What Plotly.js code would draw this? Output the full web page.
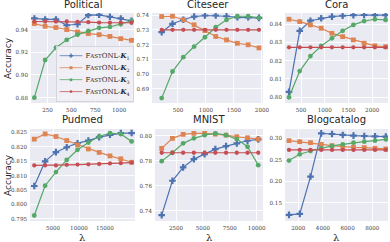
<!DOCTYPE html>
<html><head><meta charset="utf-8">
<script src="https://cdn.plot.ly/plotly-3.0.1.min.js"></script>
<style>html,body{margin:0;padding:0;background:#fff;}#c{width:390px;height:242px;}</style>
</head><body><div id="c"></div>
<script>
const seriesLabels = ['K1','K2','K3','K4'];
const seriesColors = ['#4C72B0','#DD8452','#55A868','#C44E52'];
const seriesSymbols = ['cross','square','circle','circle'];
const seriesSizes = [5.5,4.8,4.8,4.3];

const datasetNames = ['Political','Citeseer','Cora','Pudmed','MNIST','Blogcatalog'];

const politicalX = [112,225,338,451,564,677,790,903,1016,1129];
const politicalK1 = [0.9498,0.9489,0.9489,0.9438,0.9447,0.9528,0.9530,0.9513,0.9498,0.9477];
const politicalK2 = [0.9453,0.9429,0.9418,0.9400,0.9379,0.9364,0.9355,0.9340,0.9320,0.9305];
const politicalK3 = [0.8800,0.9132,0.9240,0.9310,0.9355,0.9388,0.9415,0.9423,0.9447,0.9477];
const politicalK4 = [0.9471,0.9471,0.9471,0.9471,0.9468,0.9465,0.9462,0.9460,0.9460,0.9460];

const citeseerX = [209,402,595,788,981,1174,1367,1560,1753,1946];
const citeseerK1 = [0.7284,0.7341,0.7368,0.7390,0.7397,0.7397,0.7392,0.7385,0.7385,0.7381];
const citeseerK2 = [0.7390,0.7392,0.7368,0.7334,0.7295,0.7255,0.7232,0.7209,0.7199,0.7178];
const citeseerK3 = [0.6838,0.7018,0.7115,0.7187,0.7250,0.7318,0.7368,0.7392,0.7392,0.7381];
const citeseerK4 = [0.7300,0.7300,0.7300,0.7300,0.7300,0.7300,0.7300,0.7300,0.7300,0.7300];

const coraX = [247,473,699,925,1151,1377,1603,1829,2055,2281];
const coraK1 = [0.8030,0.8363,0.8418,0.8431,0.8440,0.8445,0.8448,0.8449,0.8448,0.8448];
const coraK2 = [0.8426,0.8413,0.8395,0.8377,0.8349,0.8331,0.8313,0.8295,0.8281,0.8276];
const coraK3 = [0.8000,0.8143,0.8225,0.8280,0.8322,0.8363,0.8395,0.8416,0.8426,0.8422];
const coraK4 = [0.8273,0.8273,0.8273,0.8273,0.8273,0.8273,0.8273,0.8273,0.8273,0.8273];

const pudmedX = [1400,3480,5560,7640,9720,11800,13880,15960,18040,20120];
const pudmedK1 = [0.8064,0.8149,0.8181,0.8198,0.8212,0.8221,0.8233,0.8241,0.8247,0.8247];
const pudmedK2 = [0.8226,0.8244,0.8235,0.8221,0.8206,0.8192,0.8180,0.8168,0.8158,0.8146];
const pudmedK3 = [0.7962,0.8065,0.8112,0.8154,0.8189,0.8214,0.8235,0.8247,0.8244,0.8218];
const pudmedK4 = [0.8135,0.8135,0.8135,0.8137,0.8138,0.8139,0.8140,0.8142,0.8143,0.8145];

const mnistX = [1170,2167,3164,4161,5158,6155,7152,8149,9146,10143];
const mnistK1 = [0.7365,0.7640,0.7747,0.7813,0.7853,0.7893,0.7917,0.7939,0.7960,0.7971];
const mnistK2 = [0.7899,0.7979,0.8011,0.8019,0.8019,0.8013,0.8005,0.7992,0.7984,0.7973];
const mnistK3 = [0.7797,0.7864,0.7939,0.7979,0.8005,0.8019,0.8005,0.7973,0.7912,0.7765];
const mnistK4 = [0.7864,0.7864,0.7864,0.7864,0.7864,0.7864,0.7864,0.7864,0.7864,0.7864];

const blogX = [1246,2118,2990,3862,4734,5606,6478,7350,8222,9094];
const blogK1 = [0.1217,0.1240,0.2109,0.3116,0.3101,0.3078,0.3062,0.3054,0.3046,0.3039];
const blogK2 = [0.2946,0.2922,0.2899,0.2860,0.2829,0.2806,0.2791,0.2783,0.2767,0.2752];
const blogK3 = [0.2481,0.2628,0.2705,0.2767,0.2822,0.2860,0.2899,0.2922,0.2946,0.2977];
const blogK4 = [0.2729,0.2729,0.2729,0.2729,0.2729,0.2729,0.2729,0.2729,0.2729,0.2729];

const politicalXTicks = [250,500,750,1000];
const citeseerXTicks = [500,1000,1500,2000];
const coraXTicks = [500,1000,1500,2000];
const pudmedXTicks = [5000,10000,15000];
const mnistXTicks = [2500,5000,7500,10000];
const blogXTicks = [2000,4000,6000,8000];

const politicalYTicks = [0.88,0.90,0.92,0.94];
const citeseerYTicks = [0.69,0.70,0.71,0.72,0.73,0.74];
const coraYTicks = [0.80,0.81,0.82,0.83,0.84];
const pudmedYTicks = [0.795,0.800,0.805,0.810,0.815,0.820,0.825];
const mnistYTicks = [0.74,0.76,0.78,0.80];
const blogYTicks = [0.15,0.20,0.25,0.30];

const W = 390, H = 242;
// panel boxes in pixels [left,right,top,bottom]
const boxes = [[31,134,13,103],[152,263,13,103],[285,388,13,103],[30,135,129,221],[155,263,129,221],[285,388,129,221]];
const xRanges = [[77,1155],[36,2018],[163,2332],[577,20770],[548,10585],[921,9275]];
const yRanges = [[0.8753,0.9546],[0.6805,0.7414],[0.7969,0.846],[0.7943,0.8261],[0.7318,0.8054],[0.1074,0.3217]];
const yDecimals = [2,2,2,3,2,2];

const panels = [
  [politicalX,[politicalK1,politicalK2,politicalK3,politicalK4],politicalXTicks,politicalYTicks],
  [citeseerX,[citeseerK1,citeseerK2,citeseerK3,citeseerK4],citeseerXTicks,citeseerYTicks],
  [coraX,[coraK1,coraK2,coraK3,coraK4],coraXTicks,coraYTicks],
  [pudmedX,[pudmedK1,pudmedK2,pudmedK3,pudmedK4],pudmedXTicks,pudmedYTicks],
  [mnistX,[mnistK1,mnistK2,mnistK3,mnistK4],mnistXTicks,mnistYTicks],
  [blogX,[blogK1,blogK2,blogK3,blogK4],blogXTicks,blogYTicks]
];

// legend is drawn by Plotly at a larger font, then scaled down as a whole
const LEG_SCALE = 0.63;
function legendLabel(i){
  return 'F<span style="font-size:8.8px">AST</span>ONL-<b><i>K</i></b><sub>'+(i+1)+'</sub>';
}

const traces = [];
const layout = {
  width: W, height: H,
  margin: {l:0,r:0,t:0,b:0},
  paper_bgcolor: '#ffffff',
  plot_bgcolor: '#EAEAF2',
  showlegend: true,
  legend: {
    x: 0.05, y: 0.95, xanchor: 'left', yanchor: 'top',
    bgcolor: 'rgba(240,240,246,0.85)', bordercolor: '#cfcfd8', borderwidth: 1.3,
    font: {family: 'DejaVu Serif', size: 11, color: '#262626'},
    tracegroupgap: 0, itemwidth: 36
  },
  annotations: []
};

panels.forEach((p, k) => {
  const id = k === 0 ? '' : String(k+1);
  const b = boxes[k];
  layout['xaxis'+id] = {
    domain: [b[0]/W, b[1]/W], range: xRanges[k], anchor: 'y'+id,
    tickvals: p[2], ticktext: p[2].map(v => String(v)),
    showgrid: true, gridcolor: '#ffffff', gridwidth: 0.9, zeroline: false,
    showline: false, ticks: '', ticklabelstandoff: 2,
    tickfont: {family: 'DejaVu Serif', size: 5.6, color: '#444444'}
  };
  layout['yaxis'+id] = {
    domain: [1-b[3]/H, 1-b[2]/H], range: yRanges[k], anchor: 'x'+id,
    tickvals: p[3], ticktext: p[3].map(v => v.toFixed(yDecimals[k])),
    showgrid: true, gridcolor: '#ffffff', gridwidth: 0.9, zeroline: false,
    showline: false, ticks: '', ticklabelstandoff: 2,
    tickfont: {family: 'DejaVu Serif', size: 5.6, color: '#444444'}
  };
  p[1].forEach((ys, i) => {
    traces.push({
      type: 'scatter', mode: 'lines+markers',
      x: p[0], y: ys, xaxis: 'x'+id, yaxis: 'y'+id,
      name: legendLabel(i), showlegend: k === 0,
      line: {color: seriesColors[i], width: 1.2},
      marker: {color: seriesColors[i], symbol: seriesSymbols[i], size: seriesSizes[i], line: {width: 0}}
    });
  });
  layout.annotations.push({
    text: datasetNames[k], xref: 'paper', yref: 'paper',
    x: (b[0]+b[1])/2/W, y: 1-(b[2]-1.5)/H, xanchor: 'center', yanchor: 'bottom',
    showarrow: false, font: {family: 'DejaVu Sans', size: 10, color: '#262626'}
  });
  if (k >= 3) {
    layout.annotations.push({
      text: 'λ', xref: 'paper', yref: 'paper',
      x: (b[0]+b[1])/2/W, y: 1-237/H, xanchor: 'center', yanchor: 'middle',
      showarrow: false, font: {family: 'DejaVu Serif', size: 10, color: '#262626'}
    });
  }
  if (k === 0 || k === 3) {
    layout.annotations.push({
      text: 'Accuracy', xref: 'paper', yref: 'paper',
      x: 8/W, y: 1-((b[2]+b[3])/2)/H, xanchor: 'center', yanchor: 'middle', textangle: -90,
      showarrow: false, font: {family: 'DejaVu Sans', size: 9, color: '#262626'}
    });
  }
});

Plotly.newPlot('c', traces, layout, {staticPlot: true, displayModeBar: false}).then(gd => {
  const leg = gd.querySelector('g.legend');
  if (!leg) return;
  const bg = leg.querySelector('rect.bg');
  const w = bg ? parseFloat(bg.getAttribute('width')) : 120;
  const h = bg ? parseFloat(bg.getAttribute('height')) : 80;
  // anchor legend's bottom-right corner near the Political panel's bottom-right
  const right = 133, bottom = 101;
  const tx = right - w*LEG_SCALE, ty = bottom - h*LEG_SCALE;
  leg.setAttribute('transform', 'translate(' + tx + ',' + ty + ') scale(' + LEG_SCALE + ')');
});
</script></body></html>
